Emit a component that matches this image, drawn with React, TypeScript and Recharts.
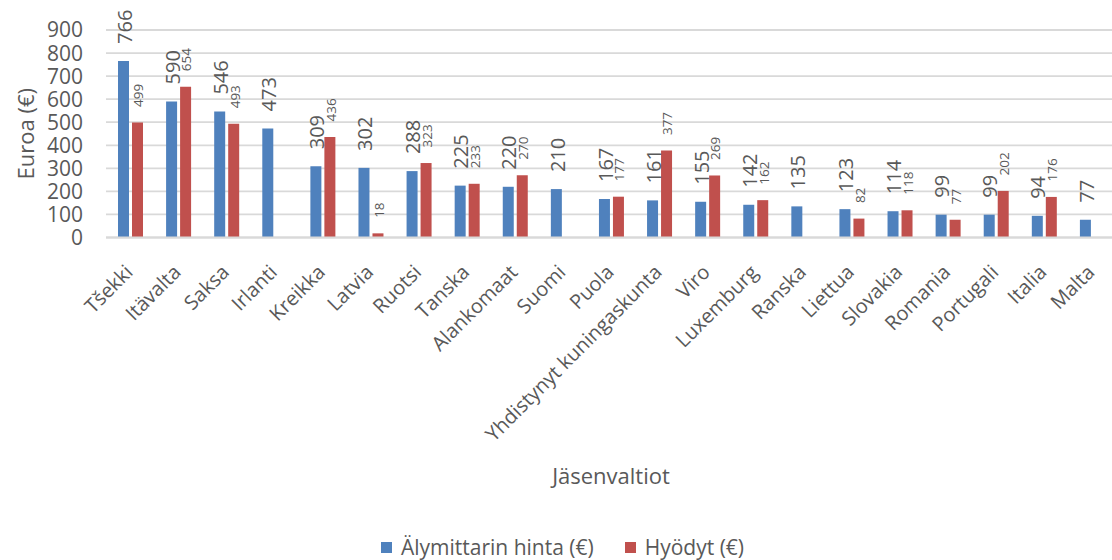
import React from "react";
import {
  BarChart,
  Bar,
  XAxis,
  YAxis,
  CartesianGrid,
  Legend,
  LabelList,
  Label,
} from "recharts";

// Member states, sorted by smart meter price (descending).
const countries = [
  "Tšekki",
  "Itävalta",
  "Saksa",
  "Irlanti",
  "Kreikka",
  "Latvia",
  "Ruotsi",
  "Tanska",
  "Alankomaat",
  "Suomi",
  "Puola",
  "Yhdistynyt kuningaskunta",
  "Viro",
  "Luxemburg",
  "Ranska",
  "Liettua",
  "Slovakia",
  "Romania",
  "Portugali",
  "Italia",
  "Malta",
];

// Älymittarin hinta (€) per member state.
const meterPrice = [
  766, 590, 546, 473, 309, 302, 288, 225, 220, 210, 167, 161, 155, 142, 135,
  123, 114, 99, 99, 94, 77,
];

// Hyödyt (€) per member state; null where no figure was reported.
const benefits = [
  499, 654, 493, null, 436, 18, 323, 233, 270, null, 177, 377, 269, 162, null,
  82, 118, 77, 202, 176, null,
];

const yTicks = [0, 100, 200, 300, 400, 500, 600, 700, 800, 900];

const BLUE = "#4f81bd";
const RED = "#c0504d";
const TEXT = "#595959";
const GRID = "#d9d9d9";
const FONT = "'Open Sans', 'Noto Sans', sans-serif";

// The plot runs a few pixels past the visible right edge, so the chart is
// drawn slightly wider than the frame and clipped.
const FRAME_W = 1112;
const CHART_W = 1116;
const CHART_H = 560;

const data = countries.map((name, i) => ({
  name,
  price: meterPrice[i],
  benefit: benefits[i],
}));

// Vertical value label sitting just above a bar.
const makeBarLabel =
  (fontSize: number, gap: number, dx: number) => (props: any) => {
    const { x, y, width, value } = props;
    if (value === null || value === undefined) return null;
    const cx = Number(x) + Number(width) / 2 + dx;
    const cy = Number(y) - gap;
    return (
      <text
        x={cx}
        y={cy}
        transform={`rotate(-90, ${cx}, ${cy})`}
        textAnchor="start"
        dy="0.36em"
        fill={TEXT}
        fontSize={fontSize}
        fontFamily={FONT}
      >
        {value}
      </text>
    );
  };

// Category names drawn at -45°, ending just right of the category centre.
const CountryTick = (props: any) => {
  const { x, y, payload } = props;
  const ax = x + 4;
  const ay = y + 34;
  return (
    <text
      x={ax}
      y={ay}
      transform={`rotate(-45, ${ax}, ${ay})`}
      textAnchor="end"
      fill={TEXT}
      fontSize={20}
      fontFamily={FONT}
    >
      {payload.value}
    </text>
  );
};

const YTitle = (props: any) => {
  const vb = props.viewBox || {};
  const cx = 25;
  const cy = vb.y + vb.height / 2;
  return (
    <text
      x={cx}
      y={cy}
      transform={`rotate(-90, ${cx}, ${cy})`}
      textAnchor="middle"
      dominantBaseline="central"
      fill={TEXT}
      fontSize={22}
      fontFamily={FONT}
    >
      Euroa (€)
    </text>
  );
};

const legendItems = [
  { label: "Älymittarin hinta (€)", color: BLUE },
  { label: "Hyödyt (€)", color: RED },
];

const LegendBox = () => (
  <div
    style={{
      display: "flex",
      justifyContent: "center",
      alignItems: "center",
      width: FRAME_W,
      height: 26,
      gap: 31,
      fontFamily: FONT,
      fontSize: 21,
      color: TEXT,
      paddingLeft: 13,
      boxSizing: "border-box",
    }}
  >
    {legendItems.map((item) => (
      <span key={item.label} style={{ display: "flex", alignItems: "center" }}>
        <span
          style={{
            width: 11,
            height: 11,
            background: item.color,
            marginRight: 9,
            display: "inline-block",
          }}
        />
        {item.label}
      </span>
    ))}
  </div>
);

export default function App() {
  return (
    <div
      style={{
        position: "absolute",
        left: 0,
        top: 0,
        width: FRAME_W,
        height: CHART_H,
        overflow: "hidden",
        background: "#fff",
      }}
    >
      <BarChart
        width={CHART_W}
        height={CHART_H}
        data={data}
        margin={{ top: 30, right: 0, bottom: 0, left: 0 }}
        barSize={11}
        barGap={3}
      >
        <CartesianGrid vertical={false} stroke={GRID} strokeWidth={1.8} />
        <XAxis
          dataKey="name"
          interval={0}
          height={296.5}
          tickLine={false}
          tickSize={0}
          axisLine={{ stroke: GRID, strokeWidth: 1.8 }}
          tick={<CountryTick />}
        >
          <Label
            value="Jäsenvaltiot"
            position="insideBottom"
            offset={50}
            fill={TEXT}
            fontSize={22}
            fontFamily={FONT}
          />
        </XAxis>
        <YAxis
          width={106}
          domain={[0, 900]}
          ticks={yTicks}
          interval={0}
          tickLine={false}
          axisLine={false}
          tickSize={0}
          tickMargin={23}
          tick={{ fill: TEXT, fontSize: 21, fontFamily: FONT }}
        >
          <Label content={<YTitle />} />
        </YAxis>
        <Legend
          verticalAlign="bottom"
          wrapperStyle={{ left: 0, width: FRAME_W }}
          content={<LegendBox />}
        />
        <Bar dataKey="price" name="Älymittarin hinta (€)" fill={BLUE} isAnimationActive={false}>
          <LabelList dataKey="price" content={makeBarLabel(20, 17, 1)} />
        </Bar>
        <Bar dataKey="benefit" name="Hyödyt (€)" fill={RED} isAnimationActive={false}>
          <LabelList dataKey="benefit" content={makeBarLabel(13.5, 15.5, 1)} />
        </Bar>
      </BarChart>
    </div>
  );
}
